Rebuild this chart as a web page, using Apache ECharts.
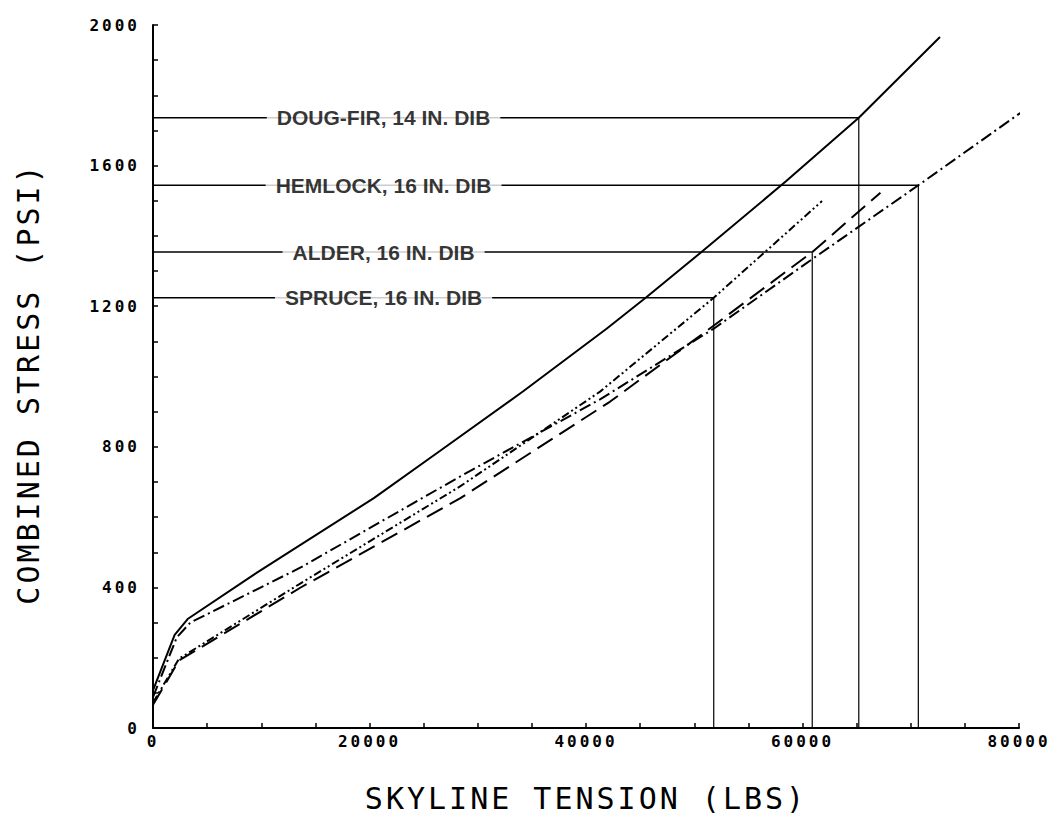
<!DOCTYPE html>
<html>
<head>
<meta charset="utf-8">
<script src="https://cdn.jsdelivr.net/npm/echarts@6/dist/echarts.min.js"></script>
<style>
  html, body { margin: 0; padding: 0; background: #fff; }
  #chart { width: 1057px; height: 818px; }
  /* plotter-style lettering: widen the monospace axis text */
  #chart text[style*="Mono"], #chart text[font-family*="Mono"] { letter-spacing: 3px; }
</style>
</head>
<body>
<div id="chart"></div>
<script>
// Skyline tension (lbs) vs combined stress (psi) for each species
const dougFirTension = [0, 2000, 3200, 9600, 20400, 26500, 34200, 41900, 45600, 50500, 58500, 65200, 72700];
const dougFirStress  = [107, 265, 310, 442, 654, 788, 958, 1136, 1226, 1350, 1556, 1736, 1966];

const hemlockTension = [0, 2200, 3450, 13600, 28400, 41300, 51800, 60900, 70700, 81000];
const hemlockStress  = [88, 258, 300, 456, 716, 935, 1136, 1334, 1544, 1769];

const spruceTension = [0, 2400, 13600, 28400, 41300, 51800, 61800];
const spruceStress  = [72, 197, 411, 688, 957, 1224, 1499];

const alderTension = [0, 2400, 13600, 28400, 42200, 51150, 60900, 67200];
const alderStress  = [66, 192, 399, 654, 928, 1130, 1354, 1523];

// Allowable-stress annotations: label, stress level, tension where the curve reaches it
const limitNames   = ['DOUG-FIR, 14 IN. DIB', 'HEMLOCK, 16 IN. DIB', 'ALDER, 16 IN. DIB', 'SPRUCE, 16 IN. DIB'];
const limitStress  = [1736, 1544, 1354, 1224];
const limitTension = [65200, 70700, 60900, 51800];

// Axis tick labels
const xTickLabels = [0, 20000, 40000, 60000, 80000];
const yTickLabels = [0, 400, 800, 1200, 1600, 2000];

const LABEL_X = 21300;
const MONO = '"DejaVu Sans Mono", monospace';

const pairs = (xs, ys) => xs.map((x, i) => [x, ys[i]]);

const curve = (name, xs, ys, dash) => ({
  name, type: 'line', data: pairs(xs, ys),
  symbol: 'none', clip: false, silent: true, z: 3,
  lineStyle: { color: '#000', width: 2, type: dash }
});

const horizontals = limitStress.map((s, i) => ({
  type: 'line', data: [[0, s], [limitTension[i], s]],
  symbol: 'none', silent: true, z: 2,
  lineStyle: { color: '#000', width: 1.5 }
}));
const verticals = limitStress.map((s, i) => ({
  type: 'line', data: [[limitTension[i], s], [limitTension[i], 0]],
  symbol: 'none', silent: true, z: 2,
  lineStyle: { color: '#000', width: 1.2 }
}));

const labelSeries = {
  type: 'scatter', silent: true, z: 5,
  symbol: 'circle', symbolSize: 1,
  itemStyle: { color: 'rgba(0,0,0,0)' },
  data: limitStress.map((s, i) => ({ value: [LABEL_X, s], name: limitNames[i] })),
  label: {
    show: true, position: 'inside',
    formatter: p => p.name,
    fontFamily: '"Liberation Sans", Arial, sans-serif',
    fontWeight: 'bold', fontSize: 21, color: '#000',
    backgroundColor: '#fff', padding: [2, 10]
  }
};

const chart = echarts.init(document.getElementById('chart'), null, { renderer: 'svg' });
chart.setOption({
  animation: false,
  backgroundColor: '#fff',
  grid: { left: 153, right: 38, top: 25, bottom: 87, containLabel: false },
  xAxis: {
    type: 'value', min: 0, max: 80000, interval: 5000,
    name: 'SKYLINE TENSION (LBS)', nameLocation: 'middle', nameGap: 55,
    nameTextStyle: { fontFamily: MONO, fontSize: 30, color: '#000' },
    axisLine: { show: true, lineStyle: { color: '#000', width: 2 } },
    axisTick: { show: true, inside: true, length: 5, lineStyle: { color: '#000', width: 1.5 } },
    axisLabel: {
      margin: 5, color: '#000', fontFamily: MONO, fontWeight: 'bold', fontSize: 16,
      formatter: v => xTickLabels.includes(v) ? String(v) : ''
    },
    splitLine: { show: false }
  },
  yAxis: {
    type: 'value', min: 0, max: 2000, interval: 100,
    name: 'COMBINED STRESS (PSI)', nameLocation: 'middle', nameGap: 110,
    nameTextStyle: { fontFamily: MONO, fontSize: 30, color: '#000', padding: [0, 14, 0, 0] },
    axisLine: { show: true, lineStyle: { color: '#000', width: 2 } },
    axisTick: { show: true, inside: true, length: 5, lineStyle: { color: '#000', width: 1.5 } },
    axisLabel: {
      margin: 13, color: '#000', fontFamily: MONO, fontWeight: 'bold', fontSize: 16,
      formatter: v => yTickLabels.includes(v) ? String(v) : ''
    },
    splitLine: { show: false }
  },
  series: [
    ...horizontals,
    ...verticals,
    curve('Doug-fir', dougFirTension, dougFirStress, 'solid'),
    curve('Hemlock', hemlockTension, hemlockStress, [12, 4, 2, 4]),
    curve('Spruce', spruceTension, spruceStress, [8, 3, 2, 3, 2, 3]),
    curve('Alder', alderTension, alderStress, [18, 8]),
    labelSeries
  ]
});
</script>
</body>
</html>
